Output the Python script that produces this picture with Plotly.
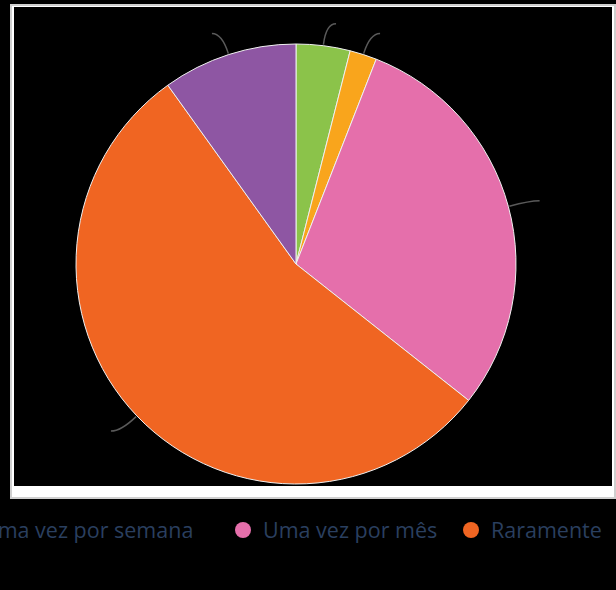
import math
import plotly.graph_objects as go

# ---- data ----
labels = ["Diariamente", "Uma vez por semana", "Uma vez por mês", "Raramente", "Nunca"]
values = [4, 2, 30, 55, 10]
colors = ["#8bc34a", "#f9a51c", "#e56fab", "#f06522", "#8e56a3"]
legend_groups = ["legend3", "legend", "legend2", "legend2", "legend2"]

# ---- geometry (pixels) ----
W, H = 616, 590
cx, cy, R = 296, 264, 220


def px(x):
    return x / W


def py(y):
    return 1 - y / H


fig = go.Figure()
fig.add_trace(go.Pie(
    labels=labels, values=values, sort=False, direction="clockwise", rotation=0,
    marker=dict(colors=colors, line=dict(color="#f0f0f0", width=1)),
    textinfo="none", showlegend=False, hoverinfo="label+percent",
    domain=dict(x=[px(cx - R), px(cx + R)], y=[py(cy + R), py(cy - R)]),
))

# legend entries with round markers
for lab, col, lg in zip(labels, colors, legend_groups):
    extra = {}
    if lab == "Uma vez por mês":
        extra["legendwidth"] = 183
    fig.add_trace(go.Scatter(
        x=[None], y=[None], mode="markers", name=lab, legend=lg,
        marker=dict(color=col, size=16), showlegend=True, hoverinfo="skip",
        **extra,
    ))

shapes = []
# frame around the chart area
shapes.append(dict(type="rect", xref="paper", yref="paper", layer="below",
                   x0=px(10), x1=px(616), y0=py(499), y1=py(4),
                   fillcolor="#cfcfcf", line=dict(width=0)))
shapes.append(dict(type="rect", xref="paper", yref="paper", layer="below",
                   x0=px(12), x1=px(614), y0=py(497), y1=py(6),
                   fillcolor="#ffffff", line=dict(width=0)))
shapes.append(dict(type="rect", xref="paper", yref="paper", layer="below",
                   x0=px(14), x1=px(612), y0=py(486), y1=py(7),
                   fillcolor="#000000", line=dict(width=0)))

# label connectors computed from slice mid-angles
total = sum(values)
cum = 0
for v in values:
    mid = (cum + v / 2) / total
    cum += v
    th = 2 * math.pi * mid
    s, c = math.sin(th), math.cos(th)
    x0, y0 = cx + (R + 1) * s, cy - (R + 1) * c
    x1, y1 = cx + (R + 22) * s, cy - (R + 22) * c
    x2 = x1 + (10 if s >= 0 else -10)
    path = f"M {px(x0)} {py(y0)} Q {px(x1)} {py(y1)} {px(x2)} {py(y1)}"
    shapes.append(dict(type="path", xref="paper", yref="paper", path=path,
                       line=dict(color="#5a5a5a", width=1.5)))

legend_common = dict(orientation="h", bgcolor="rgba(0,0,0,0)",
                     font=dict(family="Open Sans", size=21.5, color="#2a3f5f"),
                     yanchor="middle", y=py(530))

fig.update_layout(
    width=W, height=H,
    margin=dict(l=0, r=0, t=0, b=0, autoexpand=False),
    paper_bgcolor="#000000", plot_bgcolor="rgba(0,0,0,0)",
    xaxis=dict(visible=False), yaxis=dict(visible=False),
    shapes=shapes,
    legend=dict(**legend_common, x=px(199), xanchor="right"),
    legend2=dict(**legend_common, x=px(223), xanchor="left"),
    legend3=dict(**legend_common, x=px(-60), xanchor="right"),
)

fig.write_html(
    "out.html",
    config={"displayModeBar": False},
    post_script="document.body.style.margin='0';document.body.style.background='#000';",
)
